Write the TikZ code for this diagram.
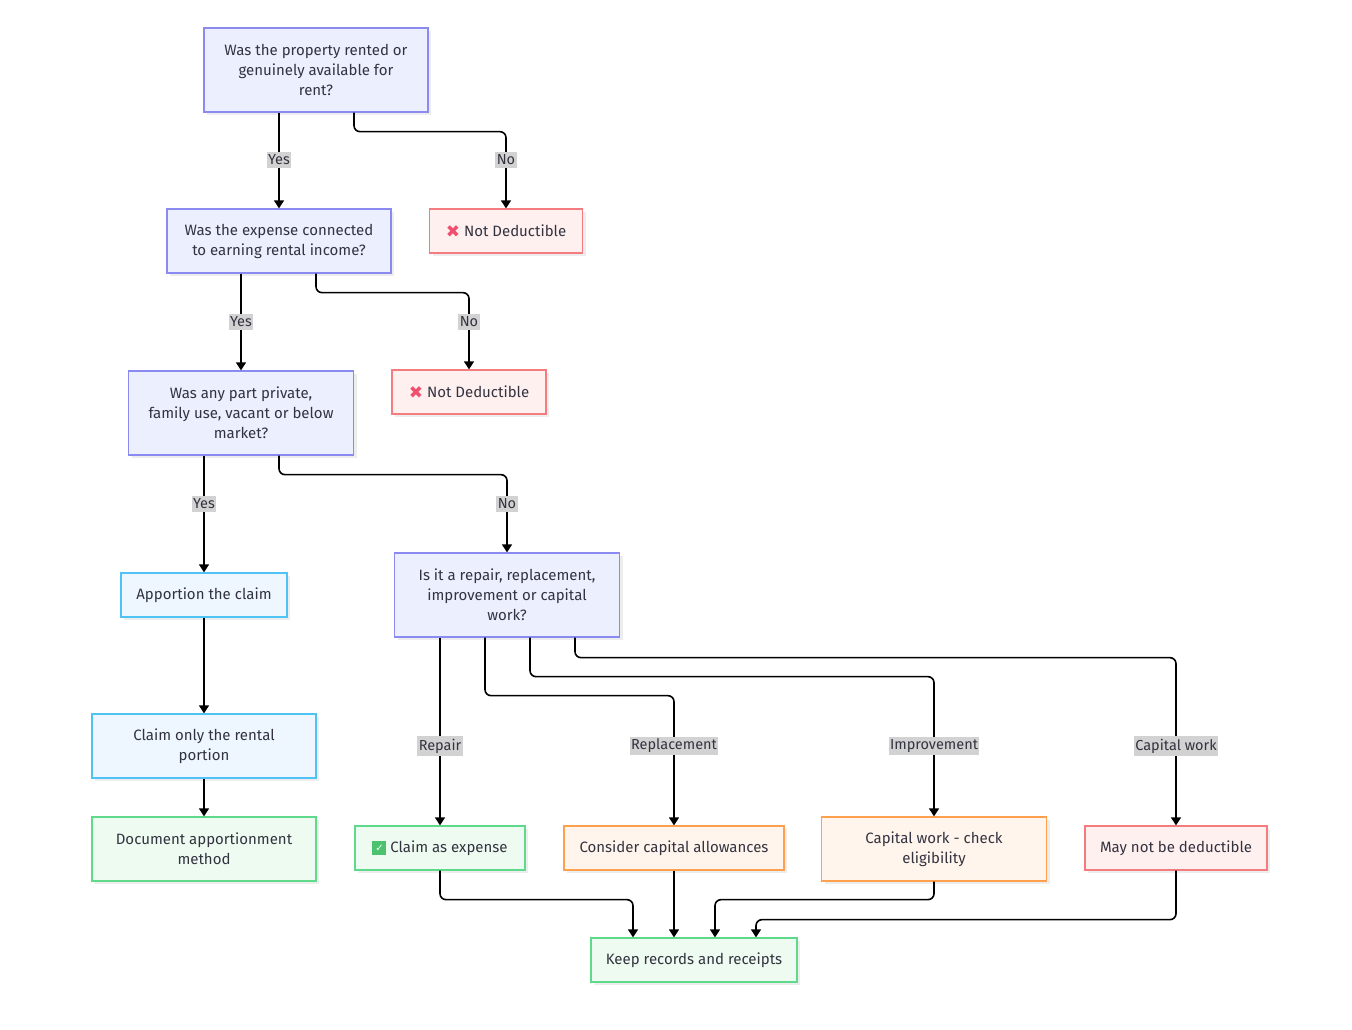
\documentclass[tikz,border=0pt]{standalone}
\usepackage{fontspec}
\setmainfont{Fira Sans}
\newfontfamily\dejavu{DejaVu Sans}
\usetikzlibrary{arrows.meta,shadows,positioning}
\definecolor{txt}{HTML}{333340}
\definecolor{qfill}{HTML}{ECEFFE}
\definecolor{qdraw}{HTML}{8A8AF0}
\definecolor{rfill}{HTML}{FFF0F0}
\definecolor{rdraw}{HTML}{F47C80}
\definecolor{bfill}{HTML}{EEF6FF}
\definecolor{bdraw}{HTML}{50C3F5}
\definecolor{gfill}{HTML}{EDFBF1}
\definecolor{gdraw}{HTML}{5FD98A}
\definecolor{ofill}{HTML}{FFF5EC}
\definecolor{odraw}{HTML}{FFA04E}
\definecolor{xred}{HTML}{F0506E}
\definecolor{chk}{HTML}{4CC26E}
\definecolor{lblbg}{HTML}{D2D2D2}
\tikzset{
  box/.style={rectangle, draw, line width=1.3pt, text=txt, align=center,
    font=\fontsize{15}{20}\selectfont,
    drop shadow={shadow xshift=3pt, shadow yshift=-3pt, fill=black, opacity=0.07}},
  qbox/.style={box, fill=qfill, draw=qdraw},
  rbox/.style={box, fill=rfill, draw=rdraw},
  bbox/.style={box, fill=bfill, draw=bdraw},
  gbox/.style={box, fill=gfill, draw=gdraw},
  obox/.style={box, fill=ofill, draw=odraw},
  arr/.style={line width=1.6pt, draw=black, rounded corners=6pt,
    -{Triangle[length=8pt,width=10pt]}},
  lbl/.style={fill=lblbg, text=txt, inner xsep=1.5pt, inner ysep=2.5pt, font=\fontsize{14.5}{16}\selectfont}
}
\newcommand{\xmark}{\raisebox{-0.05ex}{\fontsize{17}{17}\selectfont\dejavu\color{xred}\char"2716}}
\newcommand{\cmark}{\raisebox{0.05ex}{\setlength{\fboxsep}{1.5pt}\colorbox{chk}{\parbox[c][11pt][c]{11pt}{\centering\fontsize{10}{10}\selectfont\dejavu\color{white}\char"2713}}}}
\begin{document}
\begin{tikzpicture}[x=1pt,y=-1pt]
\useasboundingbox (0,0) rectangle (1352,1030);
\fill[white] (0,0) rectangle (1352,1030);
% nodes
\node[qbox, minimum width=224pt, minimum height=84pt] (q1) at (316,70) {Was the property rented or\\genuinely available for\\rent?};
\node[rbox, minimum width=153pt, minimum height=44pt] (nd1) at (506,231) {\xmark\ Not Deductible};
\node[qbox, minimum width=224pt, minimum height=64pt] (q2) at (279,241) {Was the expense connected\\to earning rental income?};
\node[rbox, minimum width=154pt, minimum height=44pt] (nd2) at (469,392) {\xmark\ Not Deductible};
\node[qbox, minimum width=225pt, minimum height=84pt] (q3) at (241,413) {Was any part private,\\family use, vacant or below\\market?};
\node[bbox, minimum width=166pt, minimum height=44pt] (a1) at (204,595) {Apportion the claim};
\node[bbox, minimum width=224pt, minimum height=64pt] (a2) at (204,746) {Claim only the rental\\portion};
\node[gbox, minimum width=224pt, minimum height=64pt] (a3) at (204,849) {Document apportionment\\method};
\node[qbox, minimum width=225pt, minimum height=84pt] (q4) at (507,595) {Is it a repair, replacement,\\improvement or capital\\work?};
\node[gbox, minimum width=170pt, minimum height=44pt] (r1) at (440,848) {\cmark\ Claim as expense};
\node[obox, minimum width=220pt, minimum height=44pt] (r2) at (674,848) {Consider capital allowances};
\node[obox, minimum width=225pt, minimum height=64pt] (r3) at (934,849) {Capital work - check\\eligibility};
\node[rbox, minimum width=182pt, minimum height=44pt] (r4) at (1176,848) {May not be deductible};
\node[gbox, minimum width=206pt, minimum height=44pt] (k) at (694,960) {Keep records and receipts};
% edges
\draw[arr] ([xshift=-37pt]q1.south) -- (q2.north);
\draw[arr] ([xshift=38pt]q1.south) -- ++(0,19) -| (nd1.north);
\draw[arr] ([xshift=-38pt]q2.south) -- (q3.north);
\draw[arr] ([xshift=37pt]q2.south) -- ++(0,19) -| (nd2.north);
\draw[arr] ([xshift=-37pt]q3.south) -- (a1.north);
\draw[arr] ([xshift=38pt]q3.south) -- ++(0,19) -| (q4.north);
\draw[arr] (a1.south) -- (a2.north);
\draw[arr] (a2.south) -- (a3.north);
\draw[arr] ([xshift=-67pt]q4.south) -- (r1.north);
\draw[arr] ([xshift=-22pt]q4.south) -- ++(0,58) -| (r2.north);
\draw[arr] ([xshift=23pt]q4.south) -- ++(0,39) -| (r3.north);
\draw[arr] ([xshift=68pt]q4.south) -- ++(0,20) -| (r4.north);
\draw[arr] (r1.south) -- ++(0,29) -| ([xshift=-61pt]k.north);
\draw[arr] (r2.south) -- ([xshift=-20pt]k.north);
\draw[arr] (r3.south) -- ++(0,18) -| ([xshift=21pt]k.north);
\draw[arr] (r4.south) -- ++(0,49) -| ([xshift=62pt]k.north);
% labels
\node[lbl] (l1) at (279,160) {Yes};
\node[lbl] (l2) at (506,160) {No};
\node[lbl] (l3) at (241,322) {Yes};
\node[lbl] (l4) at (469,322) {No};
\node[lbl] (l5) at (204,504) {Yes};
\node[lbl] (l6) at (507,504) {No};
\node[lbl] (l7) at (440,746) {Repair};
\node[lbl] (l8) at (674,746) {Replacement};
\node[lbl] (l9) at (934,746) {Improvement};
\node[lbl] (l10) at (1176,746) {Capital work};
\end{tikzpicture}
\end{document}
